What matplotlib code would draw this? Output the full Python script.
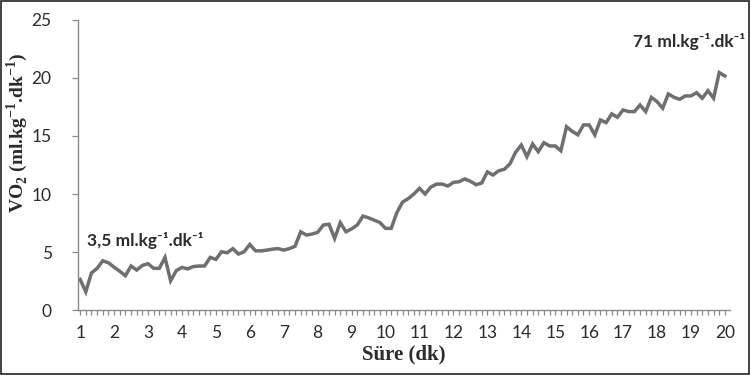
import numpy as np
import matplotlib
matplotlib.use("Agg")
import matplotlib.pyplot as plt
from matplotlib.ticker import MultipleLocator

# VO2 readings every 10 s (6 per minute), minute 1 to minute 20
vo2 = [2.65, 1.58, 3.2, 3.6, 4.25, 4.08, 3.7, 3.35, 2.96, 3.8,
       3.45, 3.85, 4.0, 3.6, 3.6, 4.54, 2.53, 3.4, 3.68, 3.55,
       3.75, 3.8, 3.8, 4.54, 4.37, 5.03, 4.94, 5.3, 4.83, 5.03,
       5.66, 5.11, 5.1, 5.17, 5.25, 5.3, 5.17, 5.3, 5.5, 6.75,
       6.47, 6.55, 6.7, 7.33, 7.4, 6.18, 7.53, 6.75, 7.0, 7.33,
       8.1, 7.95, 7.75, 7.55, 7.04, 7.04, 8.4, 9.3, 9.6, 10.0,
       10.49, 10.0, 10.6, 10.85, 10.86, 10.69, 11.0, 11.06, 11.3, 11.1,
       10.8, 10.95, 11.9, 11.64, 12.0, 12.13, 12.6, 13.6, 14.22, 13.22,
       14.31, 13.65, 14.42, 14.14, 14.14, 13.73, 15.8, 15.4, 15.1, 15.95,
       15.95, 15.09, 16.38, 16.15, 16.9, 16.61, 17.24, 17.1, 17.1, 17.67,
       17.1, 18.33, 17.96, 17.39, 18.62, 18.33, 18.16, 18.45, 18.45, 18.73,
       18.25, 18.9, 18.25, 20.46, 20.17]
samples_per_min = 6
minutes = np.arange(1, 21)
time = 1 + np.arange(len(vo2)) / samples_per_min

start_label = "3,5 ml.kg⁻¹.dk⁻¹"
peak_label = "71 ml.kg⁻¹.dk⁻¹"

plt.rcParams['mathtext.fontset'] = 'custom'
plt.rcParams['mathtext.rm'] = 'Liberation Serif:bold'
plt.rcParams['mathtext.bf'] = 'Liberation Serif:bold'

fig = plt.figure(figsize=(7.51, 3.75), dpi=100)
ax = fig.add_axes([0.104, 0.173, 0.868, 0.774])

ax.plot(time, vo2, color='#6e6f72', lw=2.5, solid_joinstyle='miter')

ax.set_xlim(1 - 0.06, 20 + 0.15)
ax.set_ylim(0, 25)
ax.set_xticks(minutes)
ax.xaxis.set_minor_locator(MultipleLocator(1 / samples_per_min))
ax.set_yticks(np.arange(0, 26, 5))

for s in ['top', 'right']:
    ax.spines[s].set_visible(False)
for s in ['left', 'bottom']:
    ax.spines[s].set_color('#8a8a8a')
    ax.spines[s].set_linewidth(1.0)

ax.tick_params(axis='x', which='both', direction='out', length=3.5,
               color='#8a8a8a', width=0.9, pad=7)
ax.tick_params(axis='y', direction='out', length=4, color='#8a8a8a',
               width=0.9, pad=15)
for lbl in ax.get_xticklabels() + ax.get_yticklabels():
    lbl.set_fontfamily('Lato')
    lbl.set_fontsize(12.5)
    lbl.set_color('#2b2b2b')

ax.set_xlabel('Süre (dk)', family='Liberation Serif', fontweight='bold',
              fontsize=15, color='#2b2b2b', labelpad=3)
ax.set_ylabel(r'VO$_2$ (ml.kg$^{-1}$.dk$^{-1}$)', family='Liberation Serif',
              fontweight='bold', fontsize=14, color='#2b2b2b')
ax.yaxis.set_label_coords(-0.074, 0.61)

ann_font = ['Lato', 'DejaVu Sans']
ax.text(1.2, 6.0, start_label, family=ann_font, fontweight='bold', fontsize=12.5,
        color='#2b2b2b', va='center', ha='left')
ax.text(17.28, 23.1, peak_label, family=ann_font, fontweight='bold', fontsize=12.5,
        color='#2b2b2b', va='center', ha='left')

fig.add_artist(plt.Rectangle((0.001, 0.002), 0.997, 0.995, transform=fig.transFigure,
                             fill=False, edgecolor='#222222', lw=1.2))

fig.savefig('out.png', dpi=100)
